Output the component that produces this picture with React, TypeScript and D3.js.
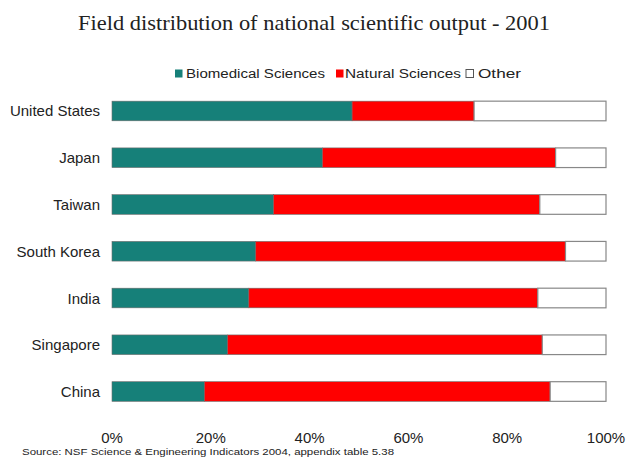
import React from "react";
import * as d3 from "d3";

const countries = ["United States", "Japan", "Taiwan", "South Korea", "India", "Singapore", "China"];
const biomedical = [48.6, 42.6, 32.7, 29.1, 27.7, 23.4, 18.7];
const natural = [24.7, 47.2, 53.9, 62.7, 58.5, 63.7, 70.0];
const other = [26.7, 10.2, 13.4, 8.2, 13.8, 12.9, 11.3];
const seriesNames = ["Biomedical Sciences", "Natural Sciences", "Other"];
const seriesColors = ["#168079", "#ff0000", "#ffffff"];
const xTicks = [0, 20, 40, 60, 80, 100];

export default function App() {
  const W = 626, H = 461;
  const x = d3.scaleLinear().domain([0, 100]).range([112, 606]);
  const y = d3.scaleBand().domain(countries).range([87.6, 414.9]).paddingInner(0.58).paddingOuter(0.29);
  const rows = countries.map((c, i) => ({ c, vals: [biomedical[i], natural[i], other[i]] }));
  const stack = rows.map((r) => {
    let acc = 0;
    return r.vals.map((v) => { const s = acc; acc += v; return [s, acc]; });
  });
  const legendSq = [175, 336, 466];
  const legendTx = [186, 345, 478];
  const legendLen = [139, 116, 43];
  const sans = "'Liberation Sans', Arial, sans-serif";
  return (
    <svg width={W} height={H} style={{ position: "absolute", left: 0, top: 0, background: "#fff" }}>
      <text x={78} y={30} fontFamily="'Liberation Serif', 'Times New Roman', serif" fontSize={22} fill="#222"
        textLength={472} lengthAdjust="spacingAndGlyphs">
        Field distribution of national scientific output - 2001
      </text>
      {seriesNames.map((n, i) => (
        <g key={n}>
          <rect x={legendSq[i]} y={69.5} width={7.5} height={8} fill={seriesColors[i]} stroke={i === 2 ? "#555" : "none"} strokeWidth={1} />
          <text x={legendTx[i]} y={77.5} fontFamily={sans} fontSize={12.5} fill="#222"
            textLength={legendLen[i]} lengthAdjust="spacingAndGlyphs">{n}</text>
        </g>
      ))}
      {rows.map((r, i) => (
        <g key={r.c}>
          <text x={100} y={(y(r.c) as number) + y.bandwidth() / 2 + 5.5} textAnchor="end" fontFamily={sans} fontSize={15} fill="#222">{r.c}</text>
          {stack[i].map(([s, e], j) => (
            <rect key={j} x={x(s)} y={y(r.c)} width={x(e) - x(s)} height={y.bandwidth()} fill={seriesColors[j]} stroke={j === 2 ? "#888" : "#6b6b6b"} strokeWidth={j === 2 ? 1.2 : 0.6} />
          ))}
        </g>
      ))}
      {xTicks.map((t) => (
        <text key={t} x={x(t)} y={443} textAnchor="middle" fontFamily={sans} fontSize={15} fill="#222">{t}%</text>
      ))}
      <text x={22} y={455} fontFamily={sans} fontSize={9.5} fill="#222" textLength={372} lengthAdjust="spacingAndGlyphs">
        Source: NSF Science &amp; Engineering Indicators 2004, appendix table 5.38
      </text>
    </svg>
  );
}
